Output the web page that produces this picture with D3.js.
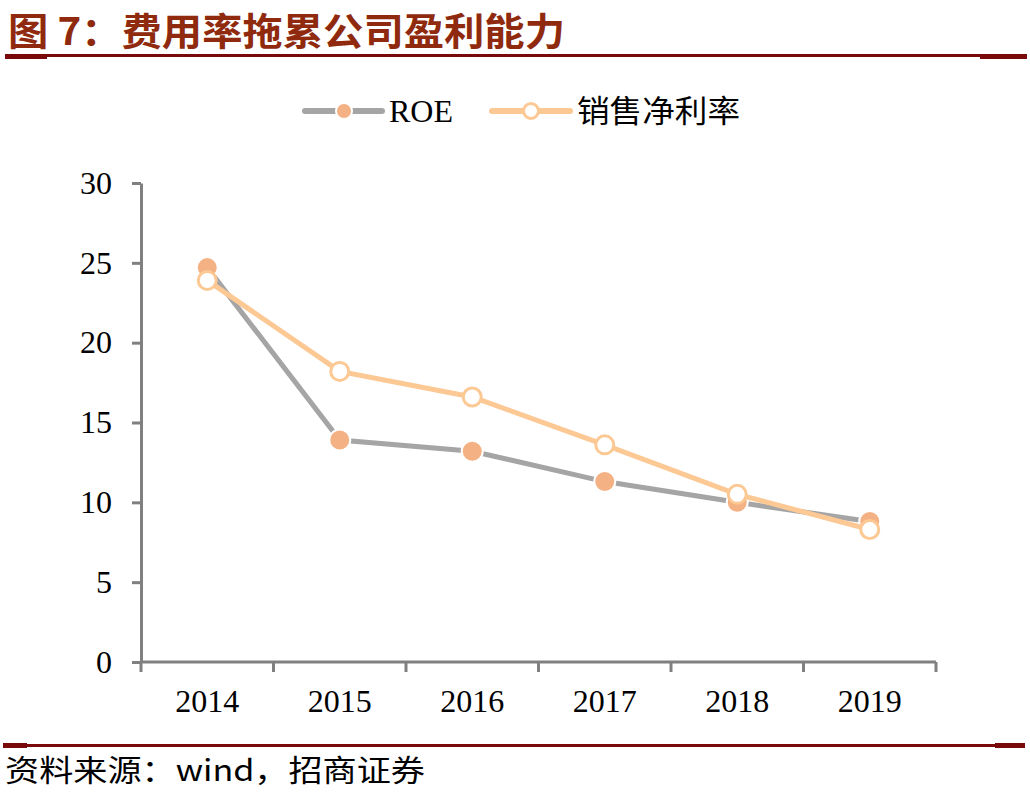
<!DOCTYPE html>
<html>
<head>
<meta charset="utf-8">
<script src="https://cdn.jsdelivr.net/npm/d3@7"></script>
<style>
  body { margin: 0; background: #fff; }
  svg { display: block; }
</style>
</head>
<body>
<div id="chart-area"></div>
<script>
// data
var years = ["2014", "2015", "2016", "2017", "2018", "2019"];
var roe = [24.7, 13.9, 13.2, 11.3, 10.0, 8.8];
var netMargin = [23.9, 18.2, 16.6, 13.6, 10.5, 8.3];
var yTicks = [0, 5, 10, 15, 20, 25, 30];

var W = 1030, H = 797;
var margin = {top: 183, right: 94, bottom: 135, left: 141};
var width = W - margin.left - margin.right;
var height = H - margin.top - margin.bottom;

var svg = d3.select("#chart-area").append("svg")
  .attr("width", W)
  .attr("height", H);

var serif = "'Liberation Serif', 'Times New Roman', serif";
var cjk = "'Noto Sans CJK SC', sans-serif";
var red = "#7a0a0a";

// title
svg.append("text")
  .attr("x", 8).attr("y", 45)
  .attr("textLength", 557)
  .attr("lengthAdjust", "spacingAndGlyphs")
  .style("font-family", cjk)
  .style("font-weight", "bold")
  .style("font-size", "38px")
  .style("fill", "#8f2a0e")
  .text("图 7：费用率拖累公司盈利能力");

// title rule: thick ends, thinner middle
svg.append("rect").attr("x", 5).attr("y", 54).attr("width", 1022).attr("height", 3).attr("fill", red);
svg.append("rect").attr("x", 5).attr("y", 54).attr("width", 42).attr("height", 5).attr("fill", red);
svg.append("rect").attr("x", 980).attr("y", 54).attr("width", 47).attr("height", 5).attr("fill", red);

// footer rule
svg.append("rect").attr("x", 3).attr("y", 744).attr("width", 1022).attr("height", 3).attr("fill", red);
svg.append("rect").attr("x", 3).attr("y", 743).attr("width", 24).attr("height", 5).attr("fill", red);
svg.append("rect").attr("x", 995).attr("y", 743).attr("width", 30).attr("height", 5).attr("fill", red);

svg.append("text")
  .attr("x", 5).attr("y", 781)
  .attr("textLength", 420)
  .attr("lengthAdjust", "spacingAndGlyphs")
  .style("font-family", cjk)
  .style("font-size", "30px")
  .style("fill", "#000")
  .text("资料来源：wind，招商证券");

var g = svg.append("g")
  .attr("transform", "translate(" + margin.left + "," + margin.top + ")");

var x = d3.scaleBand().domain(years).range([0, width]);
var y = d3.scaleLinear().domain([0, 30]).range([height, 0]);

var axisColor = "#808080";

// y axis
var yAxis = d3.axisLeft(y).tickValues(yTicks).tickSize(9).tickPadding(20).tickSizeOuter(0);
var gy = g.append("g").call(yAxis);
gy.select(".domain").attr("stroke", axisColor).attr("stroke-width", 3);
gy.selectAll(".tick line").attr("stroke", axisColor).attr("stroke-width", 3);
gy.selectAll(".tick text")
  .style("font-family", serif).style("font-size", "32px").style("fill", "#000");

// x axis: ticks on category boundaries
var gx = g.append("g").attr("transform", "translate(0," + height + ")");
gx.append("line")
  .attr("x1", 0).attr("x2", width)
  .attr("stroke", axisColor).attr("stroke-width", 3);
var bounds = years.map(function(d) { return x(d); }).concat([width]);
gx.selectAll(".bt").data(bounds).enter().append("line")
  .attr("x1", function(d) { return d; }).attr("x2", function(d) { return d; })
  .attr("y1", 0).attr("y2", 10)
  .attr("stroke", axisColor).attr("stroke-width", 3);
gx.selectAll(".yl").data(years).enter().append("text")
  .attr("x", function(d) { return x(d) + x.bandwidth() / 2; })
  .attr("y", 50)
  .attr("text-anchor", "middle")
  .style("font-family", serif).style("font-size", "32px").style("fill", "#000")
  .text(function(d) { return d; });

var cx = function(d, i) { return x(years[i]) + x.bandwidth() / 2; };
var line = d3.line().x(cx).y(function(d) { return y(d); });

var roeLine = "#a5a5a5", roeDot = "#f4b183";
var nmLine = "#fcc894";

// ROE
g.append("path").datum(roe)
  .attr("d", line).attr("fill", "none")
  .attr("stroke", roeLine).attr("stroke-width", 5);
g.selectAll(".roe").data(roe).enter().append("circle")
  .attr("cx", cx).attr("cy", function(d) { return y(d); })
  .attr("r", 10.5)
  .attr("fill", roeDot).attr("stroke", "#fff").attr("stroke-width", 2);

// net margin
g.append("path").datum(netMargin)
  .attr("d", line).attr("fill", "none")
  .attr("stroke", nmLine).attr("stroke-width", 5);
g.selectAll(".nm").data(netMargin).enter().append("circle")
  .attr("cx", cx).attr("cy", function(d) { return y(d); })
  .attr("r", 9)
  .attr("fill", "#fff").attr("stroke", nmLine).attr("stroke-width", 3);

// legend
var lg = svg.append("g");
lg.append("line").attr("x1", 305).attr("x2", 382).attr("y1", 111).attr("y2", 111)
  .attr("stroke", roeLine).attr("stroke-width", 6).attr("stroke-linecap", "round");
lg.append("circle").attr("cx", 344).attr("cy", 111).attr("r", 8)
  .attr("fill", roeDot).attr("stroke", "#fff").attr("stroke-width", 2);
lg.append("text").attr("x", 389).attr("y", 122)
  .style("font-family", serif).style("font-size", "32px").text("ROE");

lg.append("line").attr("x1", 492).attr("x2", 570).attr("y1", 111).attr("y2", 111)
  .attr("stroke", nmLine).attr("stroke-width", 6).attr("stroke-linecap", "round");
lg.append("circle").attr("cx", 531).attr("cy", 111).attr("r", 7.5)
  .attr("fill", "#fff").attr("stroke", nmLine).attr("stroke-width", 3);
lg.append("text").attr("x", 577).attr("y", 122)
  .attr("textLength", 163).attr("lengthAdjust", "spacingAndGlyphs")
  .style("font-family", cjk).style("font-size", "31px").text("销售净利率");
</script>
</body>
</html>
